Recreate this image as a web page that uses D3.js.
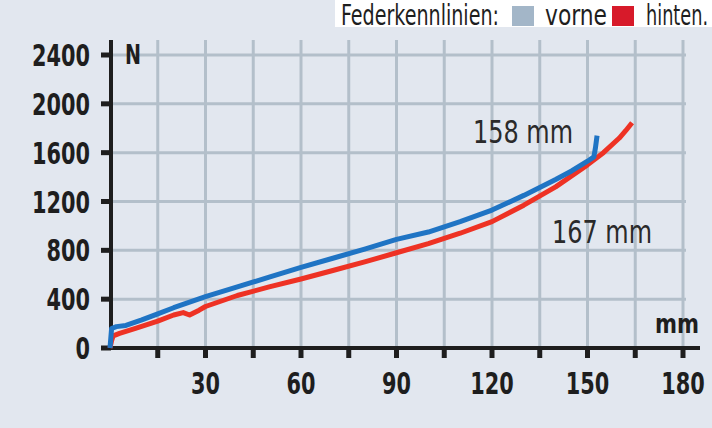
<!DOCTYPE html><html><head><meta charset="utf-8">
<script src="https://cdn.jsdelivr.net/npm/d3@7"></script>
<style>body{margin:0;background:#e2e7ef}svg{display:block}text{font-family:"Liberation Sans Narrow","DejaVu Sans Condensed",sans-serif}</style></head><body>
<svg id="c" width="712" height="428"></svg>
<script>
const xTicks=[15,30,45,60,75,90,105,120,135,150,165,180];
const xLabels=[30,60,90,120,150,180];
const yTicks=[0,400,800,1200,1600,2000,2400];
const vorneX=[0,0.5,2,5,10,15,20,30,40,50,60,70,80,90,100,110,120,130,140,145,150,152,152.5,153];
const vorneY=[0,160,175,185,230,280,330,420,500,580,660,735,810,890,950,1035,1130,1250,1380,1450,1530,1565,1640,1740];
const hintenX=[0,0.5,1,3,8,15,20,23,25,28,30,40,50,60,70,80,90,100,110,120,130,140,150,155,160,162,164];
const hintenY=[0,60,100,120,160,220,270,290,270,310,340,430,500,565,635,705,780,855,940,1035,1170,1320,1500,1600,1720,1780,1845];
const svg=d3.select("#c");
const x=d3.scaleLinear().domain([0,180]).range([110,683]);
const y=d3.scaleLinear().domain([0,2400]).range([348,55]);
const grid="#b3bfca";
svg.append("g").selectAll("line").data(xTicks).join("line").attr("x1",d=>x(d)).attr("x2",d=>x(d)).attr("y1",40).attr("y2",348).attr("stroke",grid).attr("stroke-width",3);
svg.append("g").selectAll("line").data(yTicks.slice(1)).join("line").attr("x1",110).attr("x2",686).attr("y1",d=>y(d)).attr("y2",d=>y(d)).attr("stroke",grid).attr("stroke-width",3);
svg.append("line").attr("x1",111).attr("x2",111).attr("y1",40).attr("y2",349).attr("stroke","#1e1e1e").attr("stroke-width",4);
svg.append("line").attr("x1",109).attr("x2",700).attr("y1",348).attr("y2",348).attr("stroke","#1e1e1e").attr("stroke-width",4);
svg.append("g").selectAll("line").data(yTicks).join("line").attr("x1",101).attr("x2",111).attr("y1",d=>y(d)).attr("y2",d=>y(d)).attr("stroke","#1e1e1e").attr("stroke-width",5);
svg.append("g").selectAll("line").data(xTicks).join("line").attr("x1",d=>x(d)).attr("x2",d=>x(d)).attr("y1",348).attr("y2",358).attr("stroke","#1e1e1e").attr("stroke-width",5);
svg.append("g").selectAll("text").data(yTicks).join("text").attr("x",90).attr("y",d=>y(d)+11).attr("text-anchor","end").attr("font-size",30).attr("font-weight","bold").attr("fill","#1e1e1e").attr("textLength",d=>String(d).length*14.5).attr("lengthAdjust","spacingAndGlyphs").text(d=>d);
svg.append("g").selectAll("text").data(xLabels).join("text").attr("x",d=>x(d)).attr("y",394).attr("text-anchor","middle").attr("font-size",30).attr("font-weight","bold").attr("fill","#1e1e1e").attr("textLength",d=>String(d).length*14.5).attr("lengthAdjust","spacingAndGlyphs").text(d=>d);
svg.append("text").attr("x",125).attr("y",64).attr("font-size",26).attr("font-weight","bold").attr("fill","#1e1e1e").attr("textLength",16).attr("lengthAdjust","spacingAndGlyphs").text("N");
svg.append("text").attr("x",655).attr("y",333).attr("font-size",26).attr("font-weight","bold").attr("fill","#1e1e1e").attr("textLength",44).attr("lengthAdjust","spacingAndGlyphs").text("mm");
const line=d3.line().x(d=>x(d[0])).y(d=>y(d[1]));
svg.append("path").attr("d",line(hintenX.map((v,i)=>[v,hintenY[i]]))).attr("fill","none").attr("stroke","#ee3224").attr("stroke-width",5).attr("stroke-linejoin","round");
svg.append("path").attr("d",line(vorneX.map((v,i)=>[v,vorneY[i]]))).attr("fill","none").attr("stroke","#1f74c4").attr("stroke-width",5).attr("stroke-linejoin","round");
svg.append("text").attr("x",473).attr("y",143).attr("font-size",32).attr("fill","#2a2a2a").attr("textLength",100).attr("lengthAdjust","spacingAndGlyphs").text("158 mm");
svg.append("text").attr("x",552).attr("y",243).attr("font-size",32).attr("fill","#2a2a2a").attr("textLength",100).attr("lengthAdjust","spacingAndGlyphs").text("167 mm");
svg.append("rect").attr("x",335).attr("y",0).attr("width",377).attr("height",27).attr("fill","#fff");
svg.append("text").attr("x",341).attr("y",25).attr("font-size",28).attr("fill","#1e1e1e").attr("textLength",158).attr("lengthAdjust","spacingAndGlyphs").text("Federkennlinien:");
svg.append("rect").attr("x",512).attr("y",6).attr("width",22).attr("height",20).attr("fill","#a3b6c8");
svg.append("text").attr("x",545).attr("y",25).attr("font-size",28).attr("fill","#1e1e1e").attr("textLength",62).attr("lengthAdjust","spacingAndGlyphs").text("vorne");
svg.append("rect").attr("x",612).attr("y",6).attr("width",22).attr("height",20).attr("fill","#d71a2a");
svg.append("text").attr("x",646).attr("y",25).attr("font-size",28).attr("fill","#1e1e1e").attr("textLength",62).attr("lengthAdjust","spacingAndGlyphs").text("hinten.");
</script></body></html>
